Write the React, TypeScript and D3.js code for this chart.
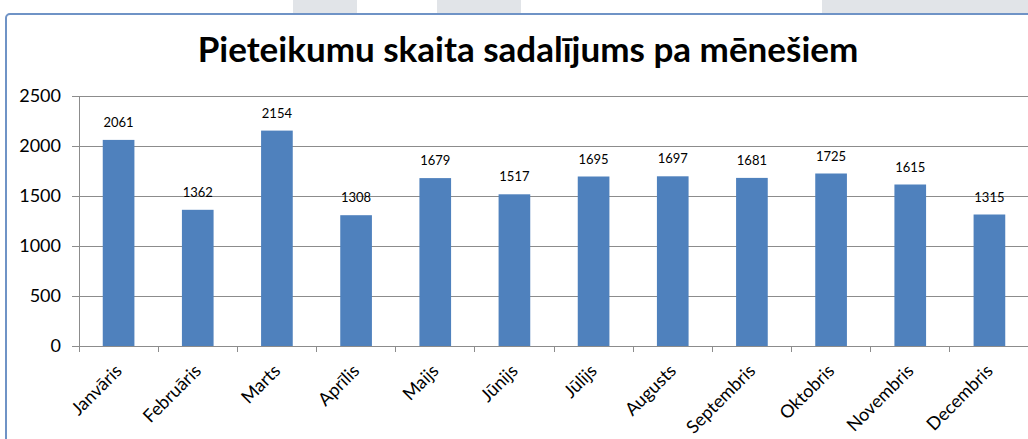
import React, { useEffect, useRef } from 'react';
import * as d3 from 'd3';

const months = [
  'Janvāris', 'Februāris', 'Marts', 'Aprīlis', 'Maijs', 'Jūnijs',
  'Jūlijs', 'Augusts', 'Septembris', 'Oktobris', 'Novembris', 'Decembris'
];
const counts = [2061, 1362, 2154, 1308, 1679, 1517, 1695, 1697, 1681, 1725, 1615, 1315];
const yTicks = [0, 500, 1000, 1500, 2000, 2500];
const title = 'Pieteikumu skaita sadalījums pa mēnešiem';

const WIDTH = 1028;
const HEIGHT = 439;
const FONT = 'Lato, "Open Sans", sans-serif';

const App: React.FC = () => {
  const svgRef = useRef<SVGSVGElement>(null);

  useEffect(() => {
    if (!svgRef.current) return;
    const svg = d3.select(svgRef.current);
    svg.selectAll('*').remove();

    // bits of window chrome peeking in at the top of the screenshot
    const chrome = [[293, 64], [437, 84], [822, 206]];
    svg.selectAll('.chrome')
      .data(chrome)
      .join('rect')
      .attr('x', d => d[0])
      .attr('y', 0)
      .attr('width', d => d[1])
      .attr('height', 14)
      .attr('fill', '#e1e4e8');

    // chart frame (runs off the right / bottom edges)
    svg.append('rect')
      .attr('x', 6)
      .attr('y', 14)
      .attr('width', WIDTH + 20)
      .attr('height', HEIGHT + 20)
      .attr('rx', 4)
      .attr('fill', '#fff')
      .attr('stroke', '#6f93c6')
      .attr('stroke-width', 2);

    const margin = { left: 79, right: -1, top: 96, bottom: 346 };

    const x = d3.scaleBand<string>()
      .domain(months)
      .range([margin.left, WIDTH - margin.right])
      .paddingInner(0.6)
      .paddingOuter(0.3);

    const y = d3.scaleLinear()
      .domain([0, 2500])
      .range([margin.bottom, margin.top]);

    const step = x.step();

    // gridlines
    svg.append('g')
      .selectAll('line')
      .data(yTicks.filter(t => t > 0))
      .join('line')
      .attr('x1', margin.left)
      .attr('x2', WIDTH)
      .attr('y1', d => y(d))
      .attr('y2', d => y(d))
      .attr('stroke', '#8c8c8c')
      .attr('stroke-width', 1)
      .attr('shape-rendering', 'crispEdges');

    // y axis
    const yAxis = svg.append('g')
      .attr('transform', `translate(${margin.left},0)`)
      .call(d3.axisLeft(y).tickValues(yTicks).tickFormat(d3.format('d')).tickSize(7).tickPadding(11));
    yAxis.select('.domain').attr('stroke', '#8c8c8c');
    yAxis.selectAll('.tick line').attr('stroke', '#8c8c8c');
    yAxis.selectAll('text')
      .style('font-family', FONT)
      .style('font-size', '18px')
      .attr('fill', '#000');

    // x axis with ticks on category boundaries
    svg.append('line')
      .attr('x1', margin.left)
      .attr('x2', WIDTH)
      .attr('y1', y(0))
      .attr('y2', y(0))
      .attr('stroke', '#8c8c8c')
      .attr('shape-rendering', 'crispEdges');
    svg.append('g')
      .selectAll('line')
      .data(months)
      .join('line')
      .attr('x1', d => (x(d) as number) - step * 0.3)
      .attr('x2', d => (x(d) as number) - step * 0.3)
      .attr('y1', y(0))
      .attr('y2', y(0) + 6)
      .attr('stroke', '#8c8c8c')
      .attr('shape-rendering', 'crispEdges');

    // bars
    svg.append('g')
      .selectAll('rect')
      .data(counts)
      .join('rect')
      .attr('x', (_, i) => x(months[i]) as number)
      .attr('y', d => y(d))
      .attr('width', x.bandwidth())
      .attr('height', d => y(0) - y(d))
      .attr('fill', '#4f81bd');

    // value labels
    svg.append('g')
      .selectAll('text')
      .data(counts)
      .join('text')
      .attr('x', (_, i) => (x(months[i]) as number) + x.bandwidth() / 2)
      .attr('y', d => y(d) - 13)
      .attr('text-anchor', 'middle')
      .style('font-family', FONT)
      .style('font-size', '13px')
      .attr('fill', '#000')
      .text(d => d);

    // rotated month labels
    svg.append('g')
      .selectAll('text')
      .data(months)
      .join('text')
      .attr('transform', d => `translate(${(x(d) as number) + x.bandwidth() / 2 + 4.5},${y(0) + 26}) rotate(-45)`)
      .attr('text-anchor', 'end')
      .style('font-family', FONT)
      .style('font-size', '18px')
      .attr('fill', '#000')
      .text(d => d);

    // title
    svg.append('text')
      .attr('x', 528)
      .attr('y', 62)
      .attr('text-anchor', 'middle')
      .style('font-family', FONT)
      .style('font-size', '35px')
      .style('font-weight', 'bold')
      .attr('fill', '#000')
      .text(title);
  }, []);

  return (
    <div style={{ position: 'fixed', left: 0, top: 0, width: WIDTH, height: HEIGHT, background: '#fff' }}>
      <svg ref={svgRef} width={WIDTH} height={HEIGHT} style={{ display: 'block' }} />
    </div>
  );
};

export default App;
